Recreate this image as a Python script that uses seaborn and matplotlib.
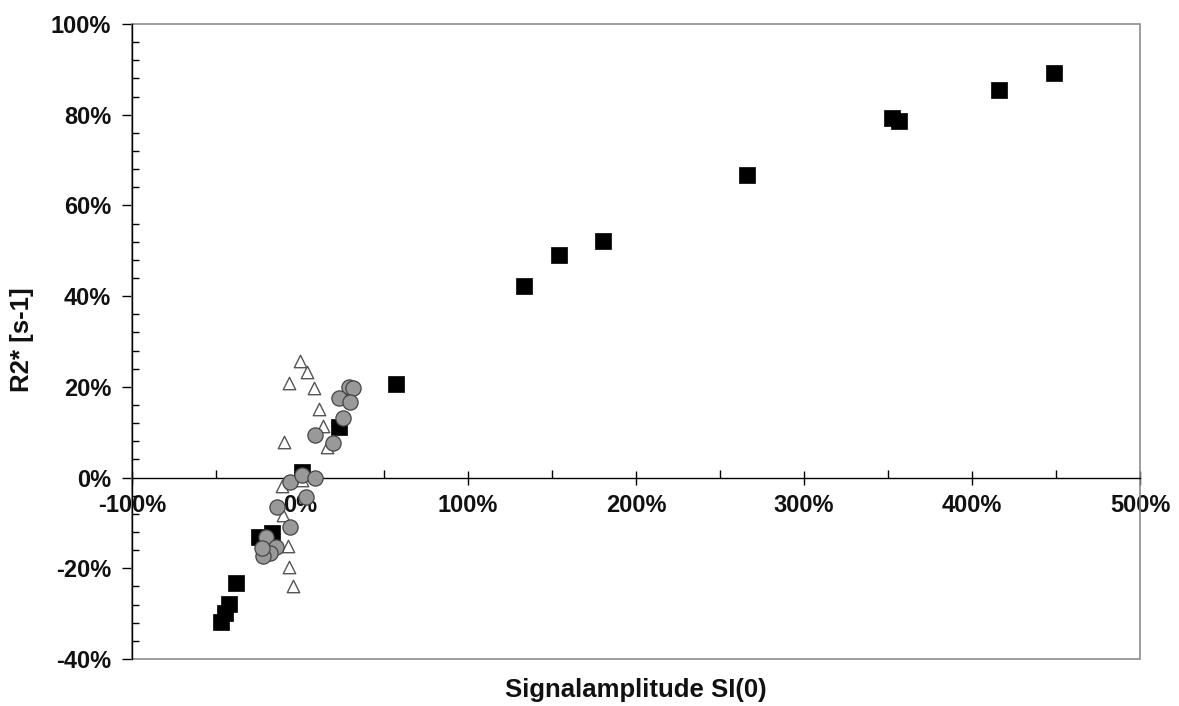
import matplotlib
matplotlib.use("Agg")
import matplotlib.pyplot as plt
import matplotlib.ticker as mticker
from matplotlib.patches import Rectangle
import seaborn as sns
import pandas as pd

# --- data (percent values) ---
sq_x = [448.6, 416.3, 352.2, 356.5, 265.9, 180.4, 154.0, 133.3, 57.0, 23.0, 1.0,
        -16.8, -24.2, -38.1, -42.1, -44.6, -47.2]
sq_y = [89.2, 85.4, 79.2, 78.6, 66.8, 52.2, 49.1, 42.2, 20.6, 11.1, 1.3,
        -12.3, -13.0, -23.2, -27.9, -29.9, -31.8]

ci_x = [29.4, 31.7, 23.2, 29.8, 25.8, 8.9, 19.8, -6.0, 1.0, 8.9, 3.6,
        -13.5, -6.0, -20.2, -14.3, -17.9, -21.8, -22.8]
ci_y = [20.0, 19.7, 17.6, 16.7, 13.2, 9.4, 7.7, -0.9, 0.6, 0.0, -4.2,
        -6.5, -10.8, -13.0, -15.2, -16.7, -17.4, -15.6]

tr_x = [0.0, 4.0, -6.4, 8.1, 11.1, 13.9, -9.3, 15.9, 1.0, -10.9,
        -9.9, -7.3, -6.4, -4.3]
tr_y = [25.8, 23.2, 20.9, 19.7, 15.1, 11.4, 7.9, 6.7, -0.5, -1.8,
        -8.2, -15.0, -19.8, -23.9]

x_label = "Signalamplitude SI(0)"
y_label = "R2* [s-1]"

sns.set_theme(style="white")
plt.rcParams['font.family'] = ['Liberation Sans', 'DejaVu Sans']
tick_fs = 17
lab_fs = 18.5

fig = plt.figure(figsize=(11.79, 7.06), dpi=100)
ax = fig.add_axes([132/1179, 1-659/706, (1140-132)/1179, (659-24)/706])

df_sq = pd.DataFrame({"x": sq_x, "y": sq_y})
df_ci = pd.DataFrame({"x": ci_x, "y": ci_y})
df_tr = pd.DataFrame({"x": tr_x, "y": tr_y})

sns.scatterplot(data=df_sq, x="x", y="y", ax=ax, marker="s", s=125,
                color="black", edgecolor="black", linewidth=0.5, zorder=3)
sns.scatterplot(data=df_tr, x="x", y="y", ax=ax, marker="^", s=80,
                facecolor="white", edgecolor="#555555", linewidth=1.0, zorder=4)
sns.scatterplot(data=df_ci, x="x", y="y", ax=ax, marker="o", s=120,
                color="#999999", edgecolor="#444444", linewidth=0.9, zorder=5)

ax.set_xlim(-100, 500)
ax.set_ylim(-40, 100)

# frame
for s in ["top", "right"]:
    ax.spines[s].set_visible(False)
ax.add_patch(Rectangle((0, 0), 1, 1, transform=ax.transAxes, fill=False,
                       edgecolor="#8c8c8c", linewidth=1.2, zorder=1, clip_on=False))
ax.spines["left"].set_color("black")
ax.spines["left"].set_linewidth(1.0)
ax.spines["left"].set_zorder(2)
ax.spines["bottom"].set_position(("data", 0))
ax.spines["bottom"].set_color("black")
ax.spines["bottom"].set_linewidth(1.0)

ax.xaxis.set_major_locator(mticker.MultipleLocator(100))
ax.xaxis.set_minor_locator(mticker.MultipleLocator(50))
ax.yaxis.set_major_locator(mticker.MultipleLocator(20))
ax.yaxis.set_minor_locator(mticker.MultipleLocator(4))
fmt = mticker.FuncFormatter(lambda v, p: f"{v:.0f}%")
ax.xaxis.set_major_formatter(fmt)
ax.yaxis.set_major_formatter(fmt)

ax.tick_params(axis="x", which="major", direction="inout", length=10, width=1,
               color="black", pad=7, labelsize=tick_fs, bottom=True)
ax.tick_params(axis="x", which="minor", direction="in", length=6, width=1,
               color="black", bottom=True)
ax.tick_params(axis="y", which="major", direction="out", length=7, width=1,
               color="black", pad=8, labelsize=tick_fs, left=True)
ax.tick_params(axis="y", which="minor", direction="in", length=5, width=1,
               color="black", left=True)
for lbl in ax.get_xticklabels() + ax.get_yticklabels():
    lbl.set_fontweight("bold")
    lbl.set_color("#111111")

ax.set_xlabel("")
ax.set_ylabel("")
fig.text((132+1140)/2/1179, 1-690/706, x_label, ha="center", va="center",
         fontsize=lab_fs, fontweight="bold", color="#111111")
fig.text(22/1179, 1-340/706, y_label, ha="center", va="center", rotation=90,
         fontsize=lab_fs, fontweight="bold", color="#111111")

fig.savefig("out.png", dpi=100, facecolor="white")
